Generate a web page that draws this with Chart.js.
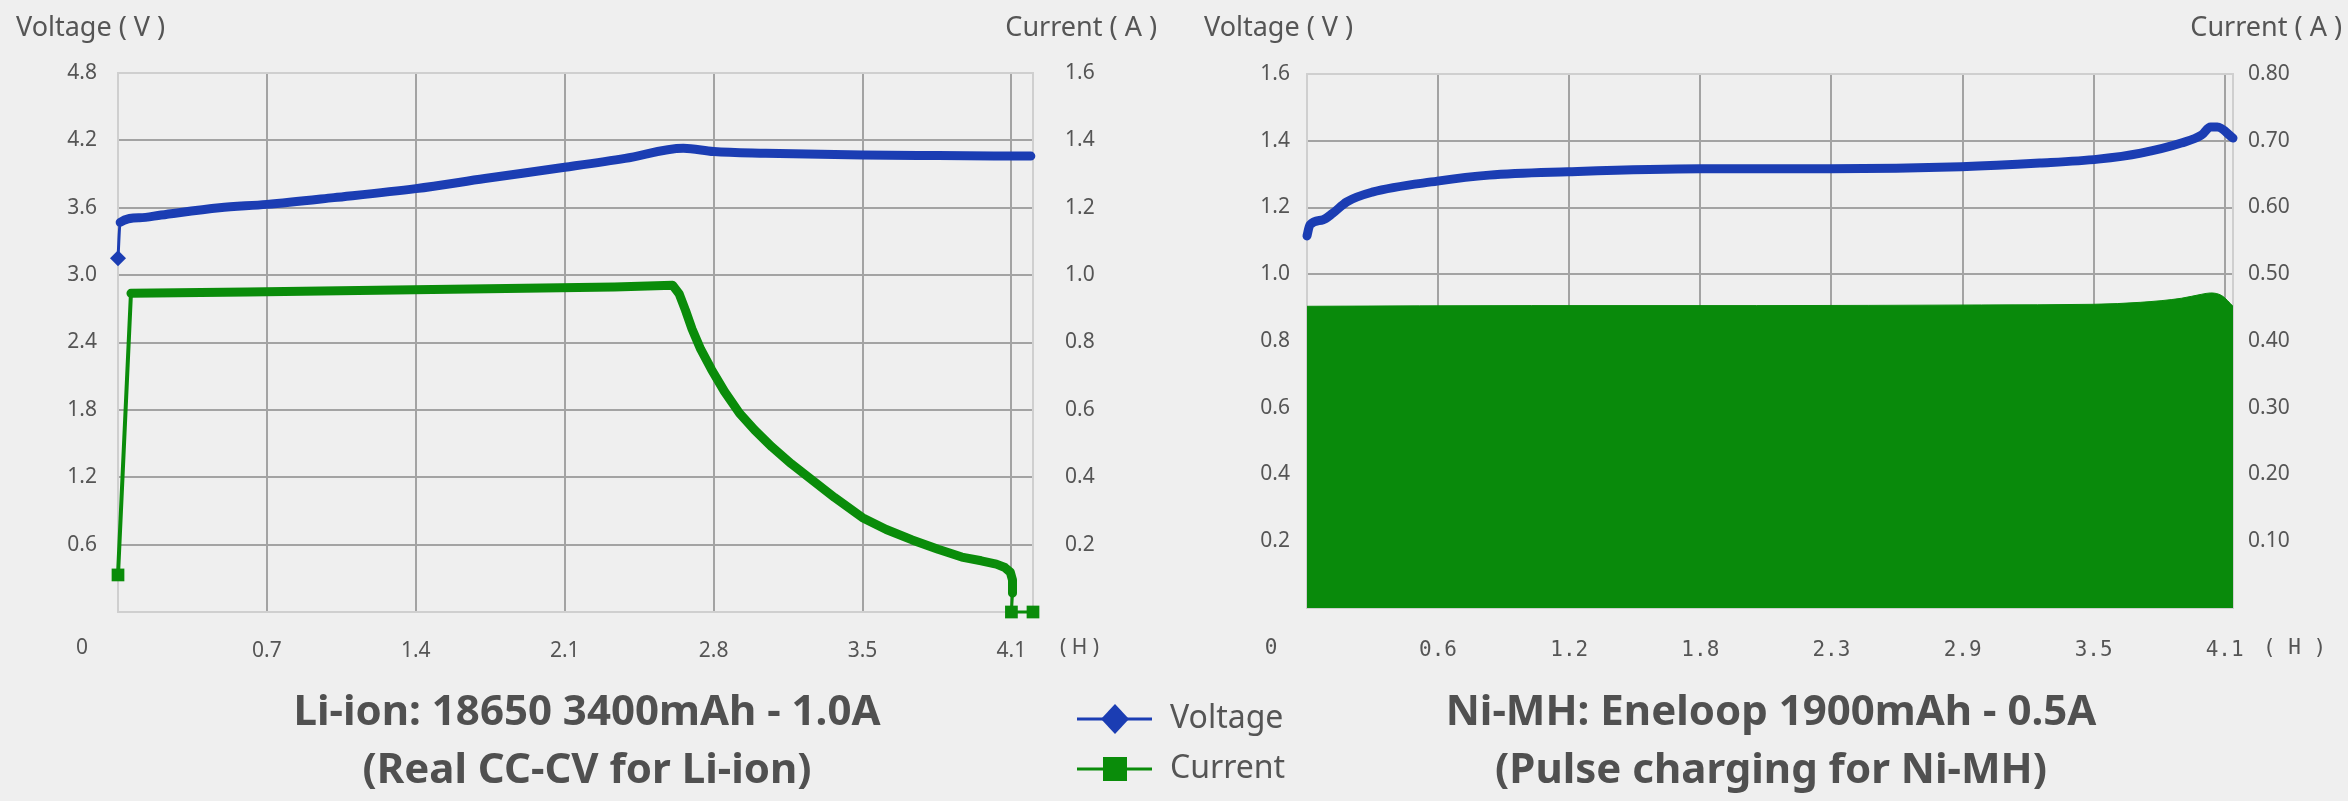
<!DOCTYPE html>
<html>
<head>
<meta charset="utf-8">
<script src="https://cdn.jsdelivr.net/npm/chart.js@4.4.1/dist/chart.umd.min.js"></script>
<style>
  html, body { margin: 0; padding: 0; background: #efefef; }
  body { width: 2348px; height: 801px; position: relative; overflow: hidden; }
  canvas { position: absolute; top: 0; }
  #liChart { left: 0; }
  #nmChart { left: 1174px; }
</style>
</head>
<body>
<canvas id="liChart" width="1300" height="801"></canvas>
<canvas id="nmChart" width="1174" height="801"></canvas>
<script>
// Li-ion 18650, CC-CV at 1.0A (hours / volts / amps)
const liVoltTime = [0, 0.01, 0.1, 0.2, 0.47, 0.69, 1.0, 1.38, 1.7, 2.07, 2.35, 2.62, 2.76, 3.0, 3.45, 3.8, 4.23];
const liVoltage  = [3.15, 3.47, 3.51, 3.535, 3.6, 3.63, 3.69, 3.77, 3.86, 3.96, 4.04, 4.13, 4.1, 4.085, 4.07, 4.065, 4.06];
const liCurTime  = [0, 0.06, 0.6, 1.2, 1.8, 2.3, 2.57, 2.6, 2.63, 2.66, 2.7, 2.75, 2.81, 2.88, 2.95, 3.03, 3.12, 3.2, 3.32, 3.45,
                    3.56, 3.68, 3.8, 3.91, 4.0, 4.07, 4.11, 4.135, 4.145, 4.145, 4.14, 4.24];
const liCurrent  = [0.11, 0.946, 0.95, 0.955, 0.96, 0.965, 0.97, 0.945, 0.895, 0.84, 0.78, 0.72, 0.655, 0.59, 0.54, 0.49, 0.44, 0.40, 0.34, 0.28,
                    0.245, 0.214, 0.186, 0.163, 0.152, 0.142, 0.132, 0.118, 0.095, 0.056, 0, 0];

// Ni-MH Eneloop, pulse charging at 0.5A
const nmVoltTime = [0, 0.013, 0.07, 0.115, 0.177, 0.29, 0.58, 0.81, 1.16, 1.75, 2.33, 2.91, 3.26, 3.52, 3.71, 3.89, 3.98, 4.02, 4.05, 4.12];
const nmVoltage  = [1.115, 1.148, 1.163, 1.183, 1.217, 1.246, 1.279, 1.297, 1.307, 1.316, 1.316, 1.322, 1.333, 1.345, 1.363, 1.393, 1.417, 1.441, 1.441, 1.408];
const nmCurTime  = [0, 1.0, 2.0, 3.0, 3.5, 3.71, 3.89, 3.98, 4.02, 4.07, 4.12];
const nmCurrent  = [0.452, 0.453, 0.453, 0.454, 0.455, 0.458, 0.464, 0.47, 0.472, 0.468, 0.452];

// axis ticks
const liHourTicks  = [0.69, 1.38, 2.07, 2.76, 3.45, 4.14];
const liHourLabels = ['0.7', '1.4', '2.1', '2.8', '3.5', '4.1'];
const liVoltTicks  = ['0.6', '1.2', '1.8', '2.4', '3.0', '3.6', '4.2', '4.8'];
const liAmpTicks   = ['0.2', '0.4', '0.6', '0.8', '1.0', '1.2', '1.4', '1.6'];
const nmHourTicks  = [0.583, 1.167, 1.75, 2.333, 2.917, 3.5, 4.083];
const nmHourLabels = ['0.6', '1.2', '1.8', '2.3', '2.9', '3.5', '4.1'];
const nmVoltTicks  = ['0.2', '0.4', '0.6', '0.8', '1.0', '1.2', '1.4', '1.6'];
const nmAmpTicks   = ['0.10', '0.20', '0.30', '0.40', '0.50', '0.60', '0.70', '0.80'];

const BLUE = '#1b3db3';
const GREEN = '#0a8c0a';
const INK = '#555555';
const GRID = '#a3a3a3';
const EDGE = '#cfcfcf';
const FONT = '"Noto Sans", sans-serif';
const MONO = '"DejaVu Sans Mono", monospace';

const pairs = (xs, ys) => xs.map((x, i) => ({ x: x, y: ys[i] }));

// fixed tick lists from the arrays above
const fixedTicks = (values, labels) => ({
  afterBuildTicks: axis => { axis.ticks = values.map(v => ({ value: Number(v) })); },
  callback: (v, i) => labels[i]
});

// horizontal axis titles, the shared "0" and the hour unit
const axisNotes = {
  id: 'axisNotes',
  afterDraw(chart, args, o) {
    const { ctx, chartArea: a } = chart;
    ctx.save();
    ctx.fillStyle = INK;
    ctx.textBaseline = 'middle';
    ctx.font = '27px ' + FONT;
    ctx.textAlign = 'left';
    ctx.fillText(o.left, o.leftX, o.topY);
    ctx.textAlign = 'right';
    ctx.fillText(o.right, o.rightX, o.topY);
    ctx.textBaseline = 'top';
    ctx.font = o.tickFont;
    ctx.textAlign = 'center';
    ctx.fillText('0', a.left - 36, a.bottom + o.tickPad);
    ctx.textAlign = 'left';
    ctx.fillText('( H )', o.unitX, a.bottom + o.tickPad);
    ctx.restore();
  }
};

// legend between the two charts
const sideLegend = {
  id: 'sideLegend',
  afterDraw(chart, args, o) {
    const ctx = chart.ctx;
    ctx.save();
    chart.data.datasets.forEach((ds, i) => {
      const y = o.y + i * o.gap;
      const mx = o.x + 38;
      ctx.strokeStyle = ds.borderColor;
      ctx.fillStyle = ds.borderColor;
      ctx.lineWidth = 3;
      ctx.beginPath();
      ctx.moveTo(o.x, y);
      ctx.lineTo(o.x + 75, y);
      ctx.stroke();
      ctx.beginPath();
      if (ds.pointStyle === 'rectRot') {
        ctx.moveTo(mx, y - 15);
        ctx.lineTo(mx + 14, y);
        ctx.lineTo(mx, y + 15);
        ctx.lineTo(mx - 14, y);
        ctx.closePath();
      } else {
        ctx.rect(mx - 12, y - 12, 24, 24);
      }
      ctx.fill();
      ctx.fillStyle = INK;
      ctx.font = '32px ' + FONT;
      ctx.textAlign = 'left';
      ctx.textBaseline = 'middle';
      ctx.fillText(ds.label, o.x + 93, y);
    });
    ctx.restore();
  }
};

const tickFont = { family: FONT, size: 21 };
const gridColor = ctx => (ctx.tick && ctx.tick.value === ctx.scale.max) ? EDGE : GRID;

function titleOpts(lines) {
  return {
    display: true,
    position: 'bottom',
    text: lines,
    color: '#505050',
    font: { family: FONT, size: 42, weight: 'bold', lineHeight: 58 / 42 },
    padding: { top: 0, bottom: 0 }
  };
}

new Chart(document.getElementById('liChart'), {
  type: 'line',
  data: {
    datasets: [{
      label: 'Voltage',
      data: pairs(liVoltTime, liVoltage),
      yAxisID: 'yV',
      borderColor: BLUE,
      backgroundColor: BLUE,
      borderWidth: 9,
      borderCapStyle: 'round',
      borderJoinStyle: 'round',
      cubicInterpolationMode: 'monotone',
      pointStyle: 'rectRot',
      pointRadius: ctx => ctx.dataIndex === 0 ? 8 : 0,
      pointBorderWidth: 0,
      pointHoverRadius: 0,
      segment: { borderWidth: ctx => ctx.p0DataIndex === 0 ? 3 : 9 },
      clip: false
    }, {
      label: 'Current',
      data: pairs(liCurTime, liCurrent),
      yAxisID: 'yA',
      borderColor: GREEN,
      backgroundColor: GREEN,
      borderWidth: 9,
      borderCapStyle: 'round',
      borderJoinStyle: 'round',
      pointStyle: 'rect',
      pointRadius: ctx => (ctx.dataIndex === 0 || ctx.dataIndex >= liCurrent.length - 2) ? 9 : 0,
      pointBorderWidth: 0,
      pointHoverRadius: 0,
      segment: {
        borderWidth: ctx => ctx.p0DataIndex === 0 ? 4 : (ctx.p0DataIndex >= liCurrent.length - 3 ? 3 : 9)
      },
      clip: false
    }]
  },
  options: {
    responsive: false,
    animation: false,
    devicePixelRatio: 1,
    layout: { padding: { top: 73, left: 0, right: 126, bottom: 1 } },
    plugins: {
      legend: { display: false },
      tooltip: { enabled: false },
      title: titleOpts(['Li-ion: 18650 3400mAh - 1.0A', '(Real CC-CV for Li-ion)']),
      axisNotes: {
        left: 'Voltage ( V )', right: 'Current ( A )',
        leftX: 16, rightX: 1157, topY: 28,
        tickFont: '21px ' + FONT, tickPad: 26, unitX: 1060
      },
      sideLegend: { x: 1077, y: 719, gap: 50 }
    },
    scales: {
      x: {
        type: 'linear', min: 0, max: 4.24,
        afterBuildTicks: fixedTicks(liHourTicks, liHourLabels).afterBuildTicks,
        afterFit: s => { s.height = 72; },
        ticks: { callback: fixedTicks(liHourTicks, liHourLabels).callback, font: tickFont, color: INK, padding: 26, autoSkip: false, maxRotation: 0 },
        grid: { color: GRID, lineWidth: 2, drawTicks: false },
        border: { color: EDGE, width: 2 }
      },
      yV: {
        position: 'left', min: 0, max: 4.8,
        afterBuildTicks: fixedTicks(liVoltTicks, liVoltTicks).afterBuildTicks,
        afterFit: s => { s.width = 118; },
        ticks: { callback: fixedTicks(liVoltTicks, liVoltTicks).callback, font: tickFont, color: INK, padding: 21, autoSkip: false },
        grid: { color: gridColor, lineWidth: 2, drawTicks: false },
        border: { color: EDGE, width: 2 }
      },
      yA: {
        position: 'right', min: 0, max: 1.6,
        afterBuildTicks: fixedTicks(liAmpTicks, liAmpTicks).afterBuildTicks,
        afterFit: s => { s.width = 141; },
        ticks: { callback: fixedTicks(liAmpTicks, liAmpTicks).callback, font: tickFont, color: INK, padding: 32, autoSkip: false },
        grid: { drawOnChartArea: false, drawTicks: false },
        border: { color: EDGE, width: 2 }
      }
    }
  },
  plugins: [axisNotes, sideLegend]
});

new Chart(document.getElementById('nmChart'), {
  type: 'line',
  data: {
    datasets: [{
      label: 'Voltage',
      data: pairs(nmVoltTime, nmVoltage),
      yAxisID: 'yV',
      borderColor: BLUE,
      borderWidth: 9,
      borderCapStyle: 'round',
      borderJoinStyle: 'round',
      cubicInterpolationMode: 'monotone',
      pointRadius: 0,
      pointHoverRadius: 0,
      clip: false
    }, {
      label: 'Current',
      data: pairs(nmCurTime, nmCurrent),
      yAxisID: 'yA',
      borderColor: '#098a0b',
      backgroundColor: '#098a0b',
      borderWidth: 1,
      cubicInterpolationMode: 'monotone',
      pointRadius: 0,
      pointHoverRadius: 0,
      fill: 'origin'
    }]
  },
  options: {
    responsive: false,
    animation: false,
    devicePixelRatio: 1,
    layout: { padding: { top: 74, left: 20, right: 0, bottom: 1 } },
    plugins: {
      legend: { display: false },
      tooltip: { enabled: false },
      title: titleOpts(['Ni-MH: Eneloop 1900mAh - 0.5A', '(Pulse charging for Ni-MH)']),
      axisNotes: {
        left: 'Voltage ( V )', right: 'Current ( A )',
        leftX: 30, rightX: 1168, topY: 28,
        tickFont: '21px ' + MONO, tickPad: 30, unitX: 1089
      }
    },
    scales: {
      x: {
        type: 'linear', min: 0, max: 4.12,
        afterBuildTicks: fixedTicks(nmHourTicks, nmHourLabels).afterBuildTicks,
        afterFit: s => { s.height = 76; },
        ticks: { callback: fixedTicks(nmHourTicks, nmHourLabels).callback, font: { family: MONO, size: 21 }, color: INK, padding: 30, autoSkip: false, maxRotation: 0 },
        grid: { color: GRID, lineWidth: 2, drawTicks: false },
        border: { color: EDGE, width: 2 }
      },
      yV: {
        position: 'left', min: 0, max: 1.6,
        afterBuildTicks: fixedTicks(nmVoltTicks, nmVoltTicks).afterBuildTicks,
        afterFit: s => { s.width = 113; },
        ticks: { callback: fixedTicks(nmVoltTicks, nmVoltTicks).callback, font: tickFont, color: INK, padding: 17, autoSkip: false },
        grid: { color: gridColor, lineWidth: 2, drawTicks: false },
        border: { color: EDGE, width: 2 }
      },
      yA: {
        position: 'right', min: 0, max: 0.8,
        afterBuildTicks: fixedTicks(nmAmpTicks, nmAmpTicks).afterBuildTicks,
        afterFit: s => { s.width = 115; },
        ticks: { callback: fixedTicks(nmAmpTicks, nmAmpTicks).callback, font: tickFont, color: INK, padding: 15, autoSkip: false },
        grid: { drawOnChartArea: false, drawTicks: false },
        border: { color: EDGE, width: 2 }
      }
    }
  },
  plugins: [axisNotes]
});
</script>
</body>
</html>
